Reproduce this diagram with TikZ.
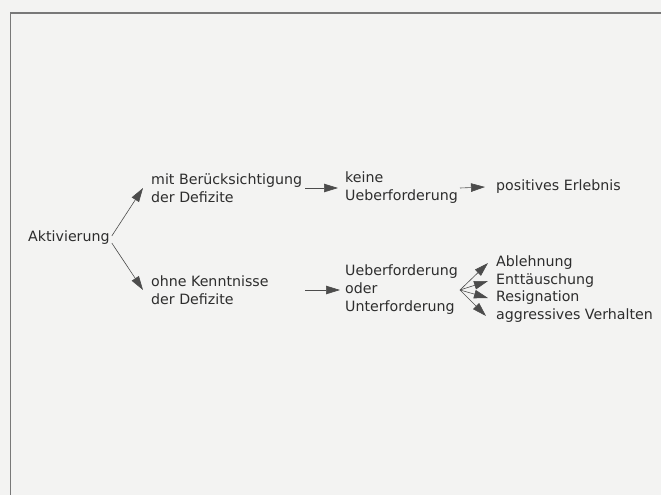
\documentclass[tikz,border=0pt]{standalone}
\usepackage{fontspec}
\setmainfont{DejaVu Sans}
\usepackage{xcolor}
\usepackage{tikz}
\usetikzlibrary{arrows.meta}
\usetikzlibrary{calc}
\definecolor{paper}{RGB}{243,243,242}
\definecolor{ink}{RGB}{45,45,45}
\definecolor{frame}{RGB}{120,120,120}

\begin{document}
\begin{tikzpicture}[x=1pt,y=-1pt]
    \tikzstyle{label}=[anchor=west,inner sep=0pt,align=left,text=ink,font=\fontsize{14.2}{18}\selectfont]
    \tikzstyle{pfeil}=[ink!85,line width=0.6pt,-{Triangle[length=14pt,width=8.5pt]}]
    \useasboundingbox (0,0) rectangle (661,495);
    \fill[paper] (0,0) rectangle (661,495);
    % Draw the frame
    \draw[frame,line width=1.6pt] (10.5,495) -- (10.5,13) -- (661,13);
    % Draw the texts
    \node[label] (akt) at (28,238) {Aktivierung};
    \node[label] (mit) at (151,188) {mit Berücksichtigung\\der Defizite};
    \node[label] (ohne) at (151,290) {ohne Kenntnisse\\der Defizite};
    \node[label] (keine) at (345,188) {keine\\Ueberforderung};
    \node[label] (pos) at (496,187) {positives Erlebnis};
    \node[label] (ueber) at (345,290) {Ueberforderung\\oder\\Unterforderung};
    \node[label] (abl) at (496,263) {Ablehnung};
    \node[label] (ent) at (496,281) {Enttäuschung};
    \node[label] (res) at (496,298) {Resignation};
    \node[label] (agg) at (496,316) {aggressives Verhalten};
    \coordinate (fan) at ([xshift=2pt]ueber.east);
    % Draw the arrows
    \draw[pfeil] ([shift={(2,-2)}]akt.east) -- ([xshift=-8pt]mit.west);
    \draw[pfeil] ([shift={(2,5)}]akt.east) -- ([xshift=-8pt]ohne.west);
    \draw[pfeil] ([xshift=3pt]mit.east) -- ([xshift=-7pt]keine.west);
    \draw[pfeil] ($(mit.east |- ohne.east)+(3,0)$) -- ([xshift=-5pt]ueber.west);
    \draw[pfeil] ([xshift=2pt]keine.east) -- ([xshift=-11pt]pos.west);
    \foreach \ziel in {abl, ent, res}
        \draw[pfeil] (fan) -- ([xshift=-8pt]\ziel.west);
    \draw[pfeil] (fan) -- ([xshift=-10pt]agg.west);
\end{tikzpicture}
\end{document}
